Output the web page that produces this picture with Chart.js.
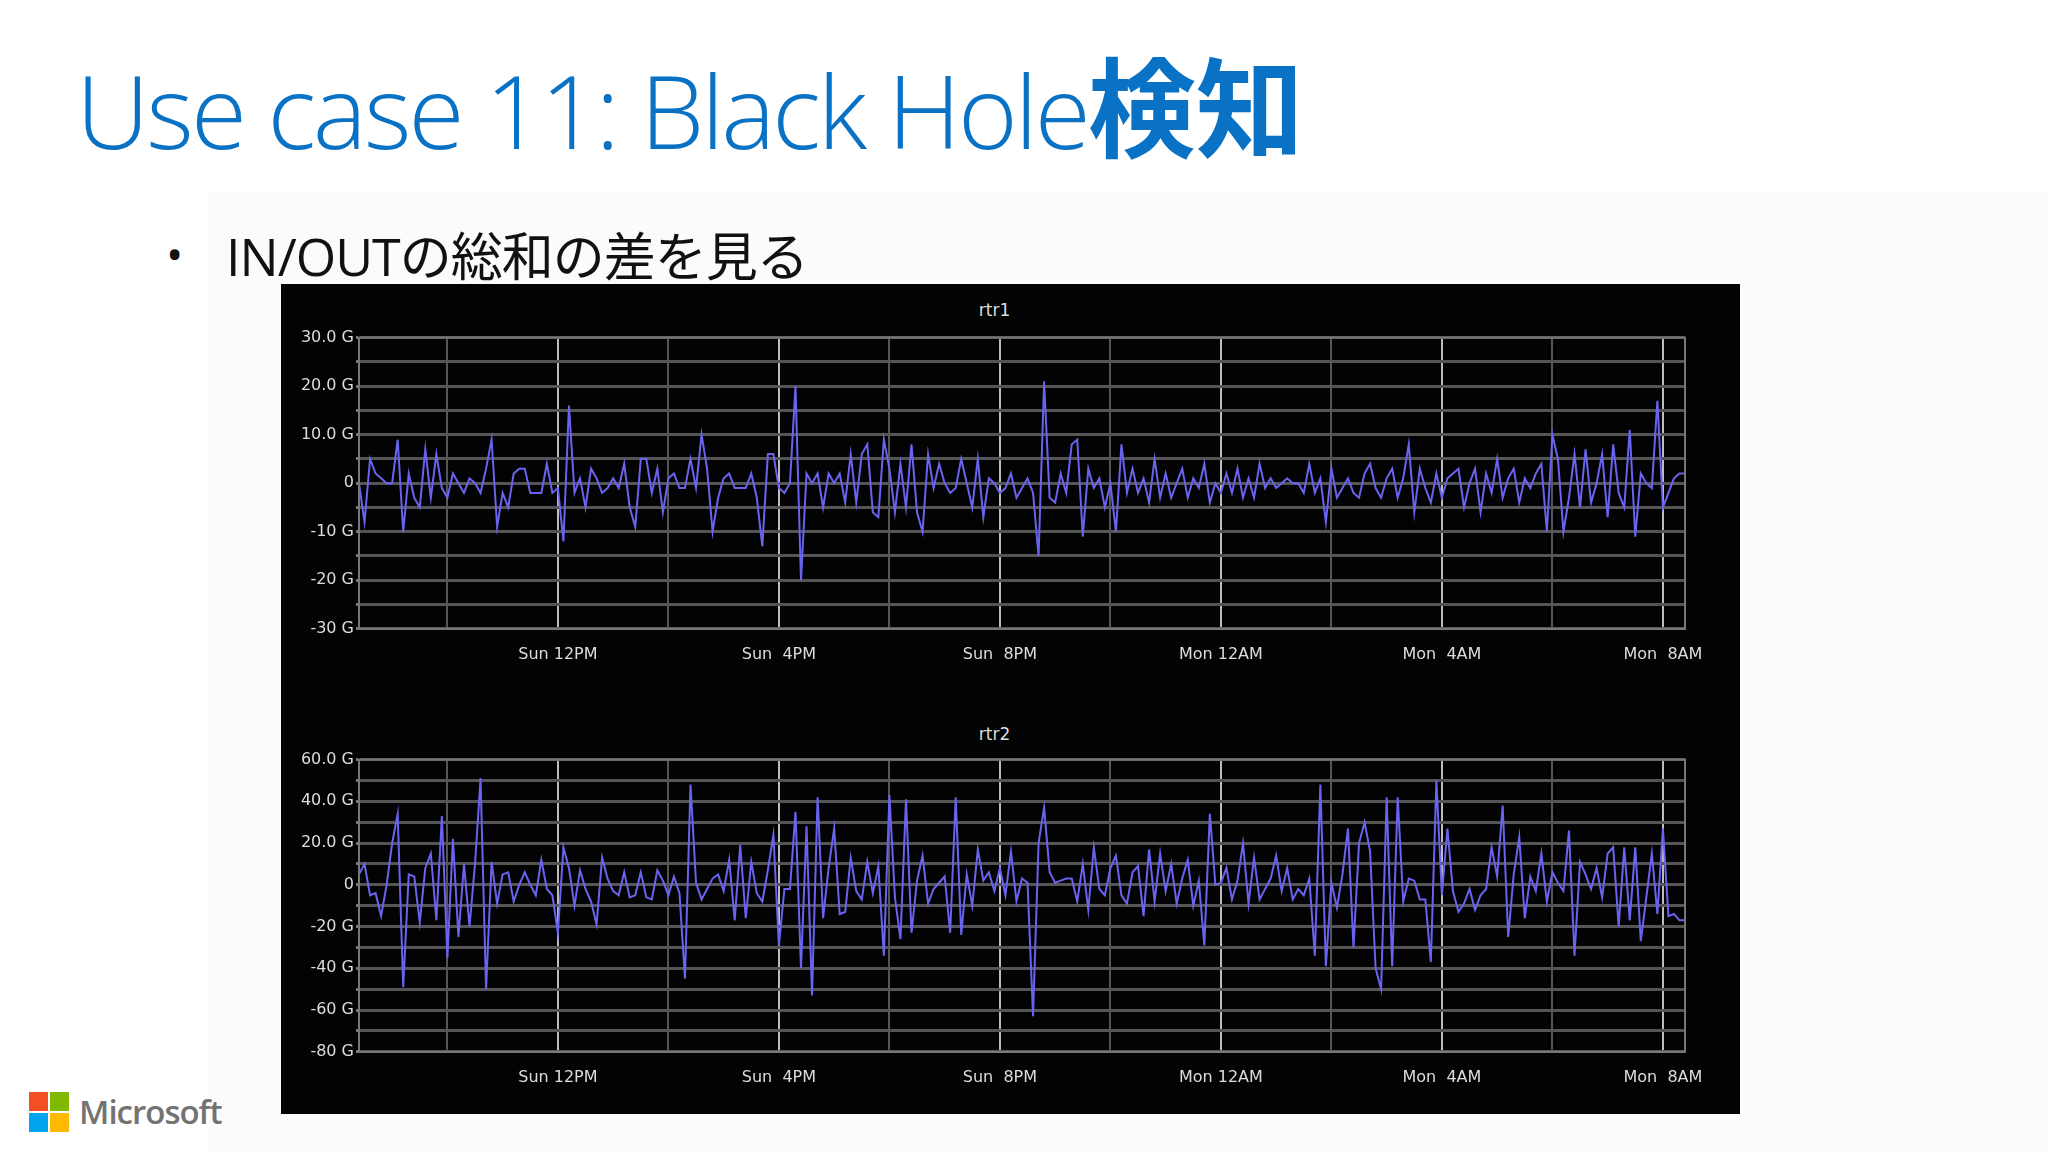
<!DOCTYPE html>
<html><head><meta charset="utf-8">
<script src="https://cdn.jsdelivr.net/npm/chart.js@4/dist/chart.umd.min.js"></script>
<style>
body{margin:0;width:2048px;height:1152px;background:#fff;position:relative;overflow:hidden;font-family:"Open Sans",sans-serif}
#bg{position:absolute;left:209px;top:193px;width:1839px;height:959px;background:#fbfbfb}
#title{position:absolute;left:76px;top:38px;font-size:102px;font-weight:300;color:#0a72c4;letter-spacing:-3px;white-space:nowrap;line-height:1.2}
#title b{font-family:"Noto Sans CJK JP";font-weight:700;letter-spacing:0;font-size:108px}
#dot{position:absolute;left:166px;top:222px;font-size:46px;color:#111}
#bullet{position:absolute;left:226px;top:216px;font-size:52px;color:#111;white-space:nowrap;font-family:"Open Sans","Noto Sans CJK JP";letter-spacing:-1px}
#panel{position:absolute;left:281px;top:284px;width:1459px;height:830px;background:#030303}
.ct{position:absolute;width:1459px;left:-16px;text-align:center;color:#ddd;font:17px "DejaVu Sans"}
canvas{position:absolute}
#logo{position:absolute;left:29px;top:1092px}
#logo i{position:absolute;width:19px;height:19px}
#ms{position:absolute;left:79px;top:1089px;font-size:33px;font-weight:600;color:#737373;letter-spacing:-1px}
</style></head><body>
<div id="bg"></div>
<div id="title">Use case 11: Black Hole<b>検知</b></div>
<div id="dot">•</div>
<div id="bullet">IN/OUTの総和の差を見る</div>
<div id="panel">
<div class="ct" style="top:16px">rtr1</div>
<div class="ct" style="top:440px">rtr2</div>
<div style="position:absolute;left:0;top:42px;width:1459px;height:354px"><canvas id="c1"></canvas></div>
<div style="position:absolute;left:0;top:464px;width:1459px;height:355px"><canvas id="c2"></canvas></div>
</div>
<div id="logo"><i style="left:0;top:0;background:#f25022"></i><i style="left:21px;top:0;background:#7fba00"></i><i style="left:0;top:21px;background:#00a4ef"></i><i style="left:21px;top:21px;background:#ffb900"></i></div>
<div id="ms">Microsoft</div>
<script>
// time axis: hours since Sunday 00:00, one sample every 6 minutes starting 08:24
const startHour = 8.4;
const stepHour = 0.1;
const tickHours = [10,12,14,16,18,20,22,24,26,28,30,32];
const tickLabels = {12:"Sun 12PM",16:"Sun  4PM",20:"Sun  8PM",24:"Mon 12AM",28:"Mon  4AM",32:"Mon  8AM"};
const rtr1 = [
0,-8,5,2,1,0,0,9,-10,2,
-3,-5,7,-3,6,-1,-3,2,0,-2,
1,0,-2,3,9,-9,-2,-5,2,3,
3,-2,-2,-2,4,-2,-1,-12,16,-2,
1,-5,3,1,-2,-1,1,-1,4,-5,
-9,5,5,-2,3,-6,1,2,-1,-1,
5,-1,10,3,-10,-3,1,2,-1,-1,
-1,2,-3,-13,6,6,-1,-2,0,20,
-20,2,0,2,-5,2,0,2,-4,6,
-4,6,8,-6,-7,9,3,-6,4,-5,
8,-6,-10,6,-1,4,0,-2,-1,5,
0,-5,5,-7,1,0,-2,-1,2,-3,
-1,1,-2,-15,21,-3,-4,2,-2,8,
9,-11,3,-1,1,-5,0,-10,8,-2,
3,-2,1,-4,5,-3,2,-3,0,3,
-3,1,-1,4,-4,0,-2,2,-2,3,
-3,1,-3,4,-1,1,-1,0,1,0,
0,-2,4,-2,1,-8,3,-3,-1,1,
-2,-3,2,4,-1,-3,1,3,-3,1,
8,-6,3,-1,-4,2,-3,1,2,3,
-5,0,3,-6,2,-2,5,-3,1,3,
-4,1,-1,2,4,-10,10,5,-10,-3,
6,-5,7,-4,0,6,-7,8,-2,-5,
11,-11,2,0,-1,17,-5,-2,1,2,
2];
const rtr2 = [
5,10,-5,-4,-15,0,20,34,-49,5,
4,-18,8,15,-17,33,-35,22,-25,10,
-20,10,51,-50,11,-9,5,6,-8,0,
6,0,-5,12,-2,-5,-23,18,8,-10,
7,-2,-8,-19,13,3,-3,-5,6,-6,
-5,6,-6,-7,7,2,-5,4,-4,-45,
48,1,-7,-2,3,5,-3,12,-17,19,
-16,11,-4,-8,7,24,-29,-2,-2,35,
-40,28,-53,42,-16,8,27,-14,-13,13,
-3,-7,11,-4,9,-34,43,-6,-26,41,
-23,2,14,-9,-2,1,4,-23,42,-24,
5,-10,17,2,6,-3,8,-5,16,-8,
3,1,-63,20,37,6,1,2,3,3,
-8,10,-12,18,-2,-5,8,14,-5,-9,
6,9,-15,17,-8,15,-3,10,-9,3,
12,-10,2,-29,34,0,1,8,-7,2,
20,-9,13,-7,-2,3,14,-3,8,-7,
-2,-5,3,-34,48,-39,1,-11,5,27,
-30,20,30,16,-40,-50,42,-39,42,-8,
3,2,-7,-7,-37,50,-5,27,-3,-13,
-9,-2,-12,-5,-2,18,4,38,-25,5,
23,-16,4,-3,15,-8,6,1,-3,26,
-34,11,5,-2,8,-6,15,18,-20,18,
-17,18,-27,-6,15,-14,27,-15,-14,-17,
-17];

function make(id, vals, ymin, ymax, ystep, labelEvery, fmt){
  const pts = vals.map((v,i)=>({x:startHour+i*stepHour, y:v}));
  new Chart(document.getElementById(id), {
    type:'line',
    data:{datasets:[{data:pts,borderColor:'#6a63f0',borderWidth:2,pointRadius:0,tension:0}]},
    options:{
      responsive:true,maintainAspectRatio:false,animation:false,
      layout:{padding:{left:0,right:55,top:0,bottom:0}},
      plugins:{legend:{display:false},tooltip:{enabled:false}},
      scales:{
        x:{type:'linear',min:8.4,max:32.4,
          afterBuildTicks:a=>{a.ticks=tickHours.map(v=>({value:v}));},
          ticks:{color:'#ddd',font:{family:'DejaVu Sans',size:16},maxRotation:0,autoSkip:false,padding:16,
            callback:v=>tickLabels[v]||''},
          grid:{color:c=>tickLabels[c.tick&&c.tick.value]?'#bdbdbd':'#555',lineWidth:2,drawTicks:false},
          border:{color:'#777',width:2}},
        y:{min:ymin,max:ymax,
          afterFit:a=>{a.width=78;},
          ticks:{stepSize:ystep,color:'#ddd',font:{family:'DejaVu Sans',size:16},padding:2,autoSkip:false,
            callback:v=>(Math.round(v)%labelEvery===0)?fmt(v):''},
          grid:{color:'#555',lineWidth:3,drawTicks:true,tickLength:3,tickColor:'#777'},
          border:{color:'#777',width:2}}
      }
    },
    plugins:[{id:'frame',afterDraw(ch){const a=ch.chartArea,c=ch.ctx;c.save();c.strokeStyle='#777';c.lineWidth=2;c.strokeRect(a.left,a.top,a.right-a.left,a.bottom-a.top);c.restore();}}]
  });
}
const fmt = v => v===0 ? '0' : (v>0 ? v.toFixed(1)+' G' : v+' G');
make('c1', rtr1, -30, 30, 5, 10, fmt);
make('c2', rtr2, -80, 60, 10, 20, fmt);
</script>
</body></html>
